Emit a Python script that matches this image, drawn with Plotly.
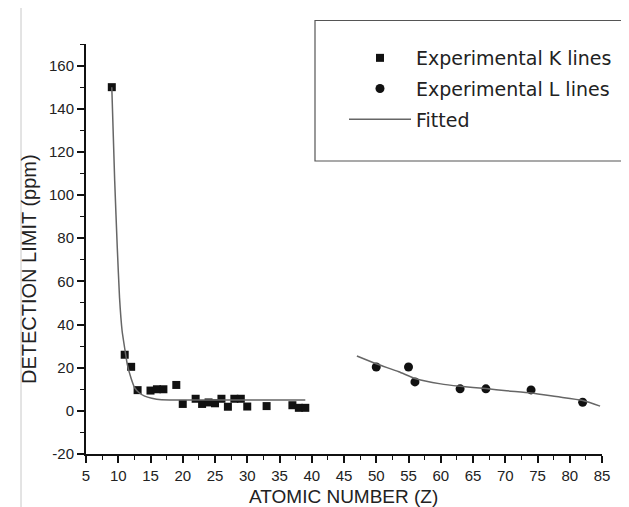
import plotly.graph_objects as go

# ---- data ----
k_z = [9, 11, 12, 13, 15, 16, 17, 19, 20, 22, 23, 24, 25, 26, 27, 28, 29, 30, 33, 37, 38, 39]
k_v = [150, 26, 20.4, 9.6, 9.4, 10, 10, 12, 3.2, 5.6, 3.2, 3.9, 3.5, 5.6, 1.9, 5.6, 5.6, 2.0, 2.2, 2.6, 1.4, 1.4]

l_z = [50, 55, 56, 63, 67, 74, 82]
l_v = [20.3, 20.3, 13.4, 10.2, 10.2, 9.7, 4.0]

fit_k_z = [9, 9.45, 9.85, 10.2, 10.6, 11.0, 11.4, 12.0, 12.55, 13.2, 14.1, 15.2, 16.7, 19, 25, 39]
fit_k_v = [150, 106.5, 75.6, 52.4, 37, 29, 21.5, 15, 10.7, 8.5, 6.8, 5.8, 5.1, 5.0, 5.0, 5.0]

fit_l_z = [47, 50, 53.5, 56, 60, 63, 67, 70.2, 74, 77.9, 82, 84.7]
fit_l_v = [25.4, 21.8, 18.1, 15.0, 12.5, 11.4, 10.3, 9.3, 8.3, 6.6, 4.8, 2.2]

x_ticks = list(range(5, 90, 5))
y_ticks = list(range(-20, 180, 20))

# ---- layout geometry (pixels) ----
W, H = 629, 507
L, R, T, B = 78, 35, 36, 61
pw, ph = W - L - R, H - T - B


def px_x(x):
    return (x - L) / pw


def px_y(y):
    return 1 - (y - T) / ph


fig = go.Figure()

fig.add_trace(go.Scatter(
    x=k_z, y=k_v, mode="markers", name="Experimental K lines",
    marker=dict(symbol="square", size=8, color="#111111"),
    legendgroup="a",
))
fig.add_trace(go.Scatter(
    x=l_z, y=l_v, mode="markers", name="Experimental L lines",
    marker=dict(symbol="circle", size=9, color="#111111"),
    legendgroup="b",
))
fig.add_trace(go.Scatter(
    x=fit_k_z, y=fit_k_v, mode="lines", name="Fitted",
    line=dict(color="#666666", width=1.5, shape="spline", smoothing=0.4),
    legendgroup="c",
))
fig.add_trace(go.Scatter(
    x=fit_l_z, y=fit_l_v, mode="lines", name="Fitted",
    line=dict(color="#666666", width=1.5, shape="spline", smoothing=0.6),
    legendgroup="c", showlegend=False,
))

axis_common = dict(
    showgrid=False, zeroline=False, showline=True, linecolor="#111111", linewidth=2,
    ticks="outside", ticklen=7, tickwidth=1.5, tickcolor="#111111",
    tickfont=dict(family="Liberation Sans, Arial", size=15, color="#222222"),
    mirror=False,
)

fig.update_xaxes(
    range=[5, 85], tickvals=x_ticks, ticktext=[str(v) for v in x_ticks],
    minor=dict(dtick=2.5, tick0=5, ticks="outside", ticklen=4, tickwidth=1.2, tickcolor="#111111"),
    **axis_common,
)
fig.update_yaxes(
    range=[-20, 170], tickvals=y_ticks, ticktext=[str(v) for v in y_ticks],
    minor=dict(dtick=10, tick0=-20, ticks="outside", ticklen=4, tickwidth=1.2, tickcolor="#111111"),
    **axis_common,
)

fig.update_layout(
    width=W, height=H,
    margin=dict(l=L, r=R, t=T, b=B, autoexpand=False),
    plot_bgcolor="white", paper_bgcolor="white",
    showlegend=True,
    legend=dict(
        x=px_x(336), y=px_y(31), xanchor="left", yanchor="top",
        bgcolor="rgba(0,0,0,0)", borderwidth=0,
        font=dict(family="DejaVu Sans", size=19, color="#222222"),
        itemwidth=62, traceorder="grouped", tracegroupgap=3,
    ),
    annotations=[
        dict(text="ATOMIC NUMBER (Z)", xref="paper", yref="paper",
             x=px_x(335), y=px_y(488), xanchor="center", yanchor="middle",
             showarrow=False, font=dict(family="Liberation Sans, Arial", size=19, color="#222222")),
        dict(text="DETECTION LIMIT (ppm)", xref="paper", yref="paper",
             x=px_x(21), y=px_y(261), xanchor="center", yanchor="middle", textangle=-90,
             showarrow=False, font=dict(family="Liberation Sans, Arial", size=20, color="#222222")),
    ],
    shapes=[
        # legend frame
        dict(type="rect", xref="paper", yref="paper",
             x0=px_x(307), x1=px_x(660), y0=px_y(153), y1=px_y(12.5),
             line=dict(color="#555555", width=1.2), fillcolor="rgba(0,0,0,0)", layer="below"),
        # outer figure border (left and bottom)
        dict(type="line", xref="paper", yref="paper",
             x0=px_x(13), x1=px_x(13), y0=px_y(0), y1=px_y(506),
             line=dict(color="#c8c8c8", width=1)),
        dict(type="line", xref="paper", yref="paper",
             x0=px_x(13), x1=px_x(640), y0=px_y(506), y1=px_y(506),
             line=dict(color="#c8c8c8", width=1)),
    ],
)

fig.write_html("out.html")
